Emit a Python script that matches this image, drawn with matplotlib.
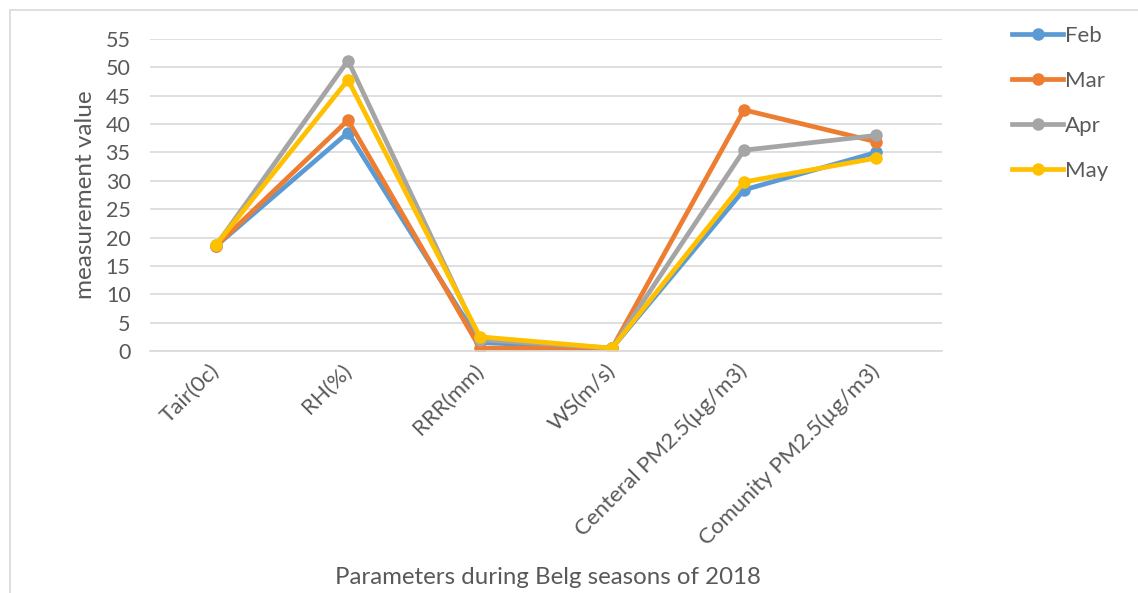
import matplotlib
matplotlib.use("Agg")
import matplotlib.pyplot as plt
from matplotlib.patches import Rectangle
from matplotlib.transforms import ScaledTranslation

categories = ["Tair(0c)", "RH(%)", "RRR(mm)", "WS(m/s)",
              "Centeral PM2.5(µg/m3)", "Comunity PM2.5(µg/m3)"]
feb = [18.5, 38.5, 1.5, 0.5, 28.4, 35.0]
mar = [18.5, 40.7, 0.5, 0.5, 42.5, 36.9]
apr = [18.6, 51.2, 2.0, 0.5, 35.4, 38.0]
may = [18.7, 47.8, 2.5, 0.5, 29.8, 34.0]
series_names = ["Feb", "Mar", "Apr", "May"]
colors = ["#5B9BD5", "#ED7D31", "#A5A5A5", "#FFC000"]
yticks = list(range(0, 56, 5))

plt.rcParams['font.family'] = ['Lato', 'DejaVu Sans']
W, H = 1138, 593
fig = plt.figure(figsize=(W / 100, H / 100), dpi=100)
fig.patches.append(Rectangle((10 / W, -0.1), 1.2, 1 - 10 / H + 0.1,
                             transform=fig.transFigure, fill=False,
                             edgecolor="#D9D9D9", lw=1.2))

ax = fig.add_axes([150 / W, 1 - 351 / H, (942 - 150) / W, (351 - 39) / H])
x = list(range(len(categories)))
for name, vals, c in zip(series_names, [feb, mar, apr, may], colors):
    ax.plot(x, vals, color=c, lw=3.4, marker="o", markersize=8,
            label=name, solid_joinstyle="round")

ax.set_xlim(-0.5, len(categories) - 0.5)
ax.set_ylim(0, 55)
ax.set_yticks(yticks)
ax.yaxis.grid(True, color="#D9D9D9", lw=1.2)
ax.set_axisbelow(True)
for s in ["top", "right", "left"]:
    ax.spines[s].set_visible(False)
ax.spines["bottom"].set_color("#D9D9D9")
ax.spines["bottom"].set_linewidth(1.2)
ax.tick_params(axis="both", length=0, colors="#595959")
ax.tick_params(axis="y", pad=14, labelsize=15.5)
ax.set_xticks(x)
ax.set_xticklabels(categories, rotation=45, ha="right", va="center",
                   rotation_mode="anchor", fontsize=16)
off = ScaledTranslation(-16 / 100, -8 / 100, fig.dpi_scale_trans)
for lab in ax.get_xticklabels():
    lab.set_color("#595959")
    lab.set_transform(lab.get_transform() + off)
ax.tick_params(axis="x", pad=12)

fig.text(85 / W, 1 - 195 / H, "measurement value", rotation=90,
         ha="center", va="center", fontsize=17.5, color="#595959")
fig.text(548 / W, 1 - 577 / H, "Parameters during Belg seasons of 2018",
         ha="center", va="center", fontsize=17.3, color="#595959")

leg = fig.legend(loc="upper left", bbox_to_anchor=(992 / W, 1 - 6 / H),
                 frameon=False, fontsize=16, labelspacing=1.12,
                 handlelength=2.3, handletextpad=0.1)
for t in leg.get_texts():
    t.set_color("#595959")

fig.savefig("out.png", dpi=100)
